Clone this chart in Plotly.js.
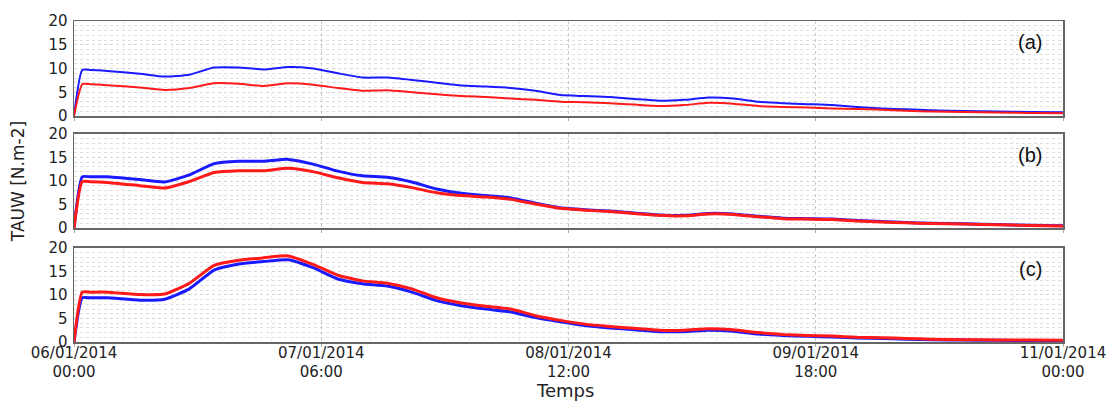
<!DOCTYPE html>
<html><head><meta charset="utf-8">
<script src="https://cdn.plot.ly/plotly-3.0.1.min.js"></script>
<style>html,body{margin:0;padding:0;background:#fff}#chart{width:1107px;height:403px}</style>
</head><body><div id="chart"></div>
<script>
const hours = [0,1,2,4,8,11,14,17,20,23,26,29,32,35,38,41,44,47,50,53,56,59,62,65,68,71,74,77,80,83,86,89,92,95,98,101,104,108,112,116,120];
const aBlue = [0,9.7,9.7,9.5,8.9,8.3,8.7,10.2,10.2,9.8,10.3,10.0,9.0,8.1,8.1,7.6,7.0,6.4,6.2,5.9,5.3,4.4,4.2,4.0,3.6,3.2,3.4,3.9,3.7,3.0,2.7,2.5,2.3,1.9,1.6,1.4,1.2,1.05,0.95,0.85,0.8];
const aRed  = [0,6.7,6.7,6.5,6.0,5.5,5.9,6.9,6.8,6.3,6.9,6.6,5.9,5.3,5.4,5.0,4.6,4.2,4.0,3.7,3.4,3.0,2.9,2.7,2.4,2.1,2.3,2.8,2.6,2.1,1.9,1.8,1.6,1.5,1.3,1.1,0.95,0.85,0.75,0.65,0.6];
const bBlue = [0,10.9,10.9,10.9,10.3,9.8,11.3,13.7,14.2,14.2,14.6,13.6,12.1,11.1,10.8,9.8,8.3,7.4,6.9,6.4,5.3,4.3,3.9,3.6,3.2,2.8,2.7,3.1,3.0,2.5,2.1,2.0,1.9,1.6,1.4,1.2,1.0,0.9,0.75,0.6,0.5];
const bRed  = [0,9.85,9.85,9.7,9.0,8.5,9.9,11.8,12.2,12.2,12.7,12.0,10.7,9.7,9.4,8.6,7.5,6.9,6.6,6.1,5.1,4.2,3.8,3.5,3.1,2.7,2.6,3.0,2.9,2.4,2.0,1.9,1.8,1.5,1.3,1.1,0.95,0.85,0.7,0.55,0.45];
const cBlue = [0,9.4,9.4,9.4,8.9,9.1,11.3,15.3,16.6,17.1,17.5,15.8,13.4,12.4,11.9,10.6,8.8,7.7,7.0,6.4,5.2,4.3,3.5,3.0,2.6,2.2,2.2,2.5,2.3,1.7,1.4,1.2,1.05,0.85,0.75,0.6,0.5,0.4,0.35,0.3,0.25];
const cRed  = [0,10.6,10.6,10.6,10.1,10.2,12.5,16.3,17.4,17.9,18.3,16.5,14.2,13.0,12.5,11.3,9.4,8.3,7.6,7.0,5.6,4.6,3.8,3.3,2.9,2.5,2.5,2.8,2.6,2.0,1.6,1.4,1.25,1.0,0.9,0.75,0.6,0.5,0.45,0.4,0.35];
const tickVals = [0,30,60,90,120];
const tickLabels = ["06/01/2014<br>00:00","07/01/2014<br>06:00","08/01/2014<br>12:00","09/01/2014<br>18:00","11/01/2014<br>00:00"];
const panelLabels = ["(a)","(b)","(c)"];

const BLUE = '#1a1aff', RED = '#ff1a1a';
function tr(y, color, w, ax){
  return {x: hours, y: y, type:'scatter', mode:'lines',
    line:{color:color, width:w, shape:'spline', smoothing:0.5},
    xaxis:'x'+ax, yaxis:'y'+ax, showlegend:false, hoverinfo:'skip'};
}
const data = [
  tr(aBlue, BLUE, 2, ''), tr(aRed, RED, 2, ''),
  tr(bBlue, BLUE, 3, '2'), tr(bRed, RED, 3, '2'),
  tr(cBlue, BLUE, 3, '3'), tr(cRed, RED, 3, '3')
];
const font = {family:'DejaVu Sans, sans-serif', size:15, color:'#222'};
function xax(anchor, labels){
  return {range:[0,120], anchor:anchor, tickvals:tickVals, ticktext:tickLabels,
    showticklabels:labels, ticks:'outside', ticklen:3, tickcolor:'#aaa',
    ticklabelstandoff: labels ? -7 : 0,
    showline:true, mirror:true, linecolor:'#666', linewidth:1.5,
    showgrid:true, gridcolor:'#c8c8c8', griddash:'dot', gridwidth:1,
    minor:{dtick:6, showgrid:true, gridcolor:'#ececec', griddash:'dot', gridwidth:1},
    zeroline:false, tickfont:font, fixedrange:true};
}
function yax(anchor, dom){
  return {range:[0,20], domain:dom, anchor:anchor, tickvals:[0,5,10,15,20],
    ticks:'', showline:true, mirror:true, linecolor:'#666', linewidth:1.5,
    showgrid:true, gridcolor:'#d4d4d4', griddash:'dot', gridwidth:1,
    minor:{dtick:1, showgrid:true, gridcolor:'#dedede', griddash:'dot', gridwidth:1},
    zeroline:false, tickfont:font, ticklabelstandoff:2, fixedrange:true};
}
const lblFont = {family:'Liberation Sans, Arial', size:20, color:'#111'};
const layout = {
  width:1107, height:403, margin:{l:74, r:44, t:21, b:61},
  paper_bgcolor:'#fff', plot_bgcolor:'#fff',
  xaxis: xax('y', false), xaxis2: xax('y2', false), xaxis3: xax('y3', true),
  yaxis: yax('x', [0.704,1.0]), yaxis2: yax('x2', [0.355,0.648]), yaxis3: yax('x3', [0,0.293]),
  annotations: [
    {text:panelLabels[0], xref:'x', yref:'y', x:116, y:15.5, xanchor:'center', yanchor:'middle', showarrow:false, font:lblFont},
    {text:panelLabels[1], xref:'x2', yref:'y2', x:116, y:15.5, xanchor:'center', yanchor:'middle', showarrow:false, font:lblFont},
    {text:panelLabels[2], xref:'x3', yref:'y3', x:116, y:15.5, xanchor:'center', yanchor:'middle', showarrow:false, font:lblFont},
    {text:'TAUW [N.m-2]', xref:'paper', yref:'paper', x:-0.0566, y:0.498, xanchor:'center', yanchor:'middle', textangle:-90, showarrow:false, font:{family:'DejaVu Sans', size:17, color:'#222'}},
    {text:'Temps', xref:'paper', yref:'paper', x:0.496, y:-0.1526, xanchor:'center', yanchor:'middle', showarrow:false, font:{family:'DejaVu Sans', size:18, color:'#222'}}
  ]
};
Plotly.newPlot('chart', data, layout, {staticPlot:true});
</script></body></html>
